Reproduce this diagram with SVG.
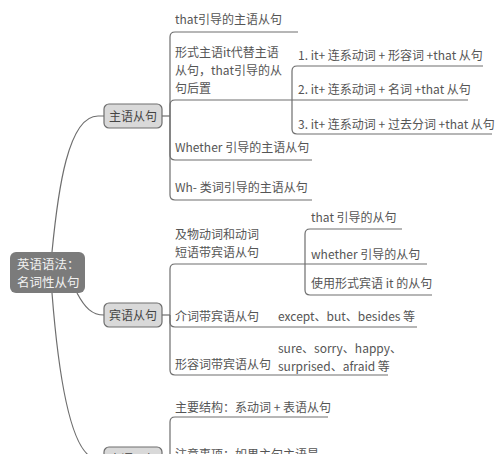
<svg xmlns="http://www.w3.org/2000/svg" width="500" height="454" viewBox="0 0 500 454">
<style>
.t{font-family:"Noto Sans CJK SC","Noto Sans",sans-serif;font-size:12px;fill:#555555}
.rt{font-family:"Noto Sans CJK SC","Noto Sans",sans-serif;font-size:12.5px;fill:#f2f2f2}
.nt{font-family:"Noto Sans CJK SC","Noto Sans",sans-serif;font-size:12px;fill:#444444;text-anchor:middle}
.ln{fill:none;stroke:#6e6e6e;stroke-width:1.2}
.nb{fill:#d9d9d9;stroke:#6e6e6e;stroke-width:1.2}
</style>
<rect width="500" height="454" fill="#ffffff"/>
<g id="connectors">
<path class="ln" d="M52,252 C58,190 68,116 98,116 L104,116"/>
<path class="ln" d="M77,293 C85,308 92,315 104,315"/>
<path class="ln" d="M52,293 C58,370 70,459 98,459 L104,459"/>
<path class="ln" d="M162,116 H170"/>
<path class="ln" d="M170,116 V37 Q170,32 175,32 H298"/>
<path class="ln" d="M170,116 V105 Q170,100 175,100 H292"/>
<path class="ln" d="M170,116 V155 Q170,160 175,160 H312"/>
<path class="ln" d="M170,116 V195 Q170,200 175,200 H312"/>
<path class="ln" d="M292,100 V71 Q292,66 297,66 H483"/>
<path class="ln" d="M292,100 H468"/>
<path class="ln" d="M292,100 V129 Q292,134 297,134 H492"/>
<path class="ln" d="M162,315 H170"/>
<path class="ln" d="M170,315 V269 Q170,264 175,264 H305"/>
<path class="ln" d="M170,315 V322 Q170,327 175,327 H417"/>
<path class="ln" d="M170,315 V370 Q170,375 175,375 H388"/>
<path class="ln" d="M305,264 V234 Q305,229 310,229 H402"/>
<path class="ln" d="M305,264 H427"/>
<path class="ln" d="M305,264 V290 Q305,295 310,295 H432"/>
<path class="ln" d="M162,459 H170"/>
<path class="ln" d="M170,459 V422 Q170,417 175,417 H328"/>
<path class="ln" d="M170,459 V470"/>
</g>
<g id="root">
<rect x="10" y="252" width="75" height="41" rx="6" fill="#7b7b7b"/>
<text class="rt" x="17" y="268.5">英语语法：</text>
<text class="rt" x="17" y="286.5">名词性从句</text>
</g>
<g id="n-subject">
<rect class="nb" x="104" y="104" width="58" height="24" rx="5"/>
<text class="nt" x="133" y="120.5">主语从句</text>
</g>
<g id="n-object">
<rect class="nb" x="104" y="303" width="58" height="24" rx="5"/>
<text class="nt" x="133" y="319.5">宾语从句</text>
</g>
<g id="n-predicative">
<rect class="nb" x="104" y="447" width="58" height="24" rx="5"/>
<text class="nt" x="133" y="463.5">表语从句</text>
</g>
<g id="s1"><text class="t" x="175" y="24">that引导的主语从句</text></g>
<g id="s2">
<text class="t" x="175" y="57">形式主语it代替主语</text>
<text class="t" x="175" y="75">从句，that引导的从</text>
<text class="t" x="175" y="93">句后置</text>
</g>
<g id="s2a"><text class="t" x="298" y="60">1. it+ 连系动词 + 形容词 +that 从句</text></g>
<g id="s2b"><text class="t" x="298" y="94">2. it+ 连系动词 + 名词 +that 从句</text></g>
<g id="s2c"><text class="t" x="298" y="129">3. it+ 连系动词 + 过去分词 +that 从句</text></g>
<g id="s3"><text class="t" x="175" y="151.5">Whether 引导的主语从句</text></g>
<g id="s4"><text class="t" x="175" y="192">Wh- 类词引导的主语从句</text></g>
<g id="o1">
<text class="t" x="175" y="239">及物动词和动词</text>
<text class="t" x="175" y="257">短语带宾语从句</text>
</g>
<g id="o1a"><text class="t" x="311" y="222">that 引导的从句</text></g>
<g id="o1b"><text class="t" x="311" y="259">whether 引导的从句</text></g>
<g id="o1c"><text class="t" x="311" y="287.5">使用形式宾语 it 的从句</text></g>
<g id="o2"><text class="t" x="175" y="321">介词带宾语从句</text></g>
<g id="o2a"><text class="t" x="278" y="321">except、but、besides 等</text></g>
<g id="o3"><text class="t" x="175" y="369">形容词带宾语从句</text></g>
<g id="o3a">
<text class="t" x="278" y="353">sure、sorry、happy、</text>
<text class="t" x="278" y="371">surprised、afraid 等</text>
</g>
<g id="p1"><text class="t" x="175" y="412">主要结构：系动词 + 表语从句</text></g>
<g id="p2"><text class="t" x="175" y="459">注意事项：如果主句主语是</text></g>
</svg>
